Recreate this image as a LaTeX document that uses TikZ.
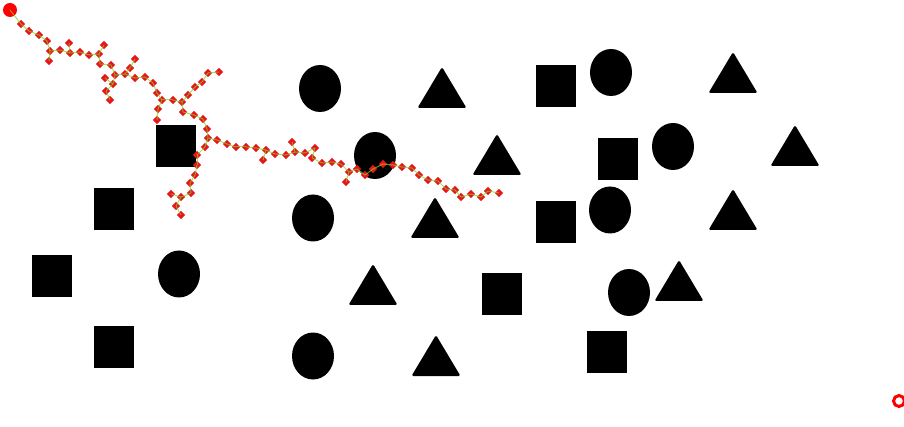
\documentclass[tikz,border=0pt]{standalone}
\usepackage{xcolor}
\usepackage{tikz}
\usetikzlibrary{shapes.geometric}
\definecolor{treered}{HTML}{E8141B}
\definecolor{treegreen}{HTML}{7ED321}

\begin{document}
\begin{tikzpicture}[x=1pt, y=-1pt,
      obst/.style={fill=black},
      vtx/.style={diamond, fill=treered, inner sep=0pt, minimum size=8.5pt},
      link/.style={treegreen, line width=1pt, opacity=0.7}]
    \useasboundingbox (0,0) rectangle (904,427);
    % obstacles
    \foreach \x/\y in {176/146, 556/86, 618/159, 114/209, 556/222, 52/276, 502/294, 114/347, 607/352}
      \fill[obst] ({\x-20},{\y-21}) rectangle ++(40,42);
    \foreach \x/\y in {320/88.5, 375/155.5, 611/72.5, 673/146.5, 313/218, 610/210, 179/274, 629/292.5, 313/356}
      \fill[obst] (\x,\y) ellipse [x radius=21pt, y radius=23.5pt];
    \foreach \x/\y in {442/67, 733/52, 497/134, 795/125, 435/197, 733/189, 373/264, 679/260, 436/335}
      \fill[obst, rounded corners=1.5pt] (\x,\y) -- ++(24.5,41) -- ++(-49,0) -- cycle;
    % start and goal
    \node[circle, fill=red, inner sep=0pt, minimum size=14pt] (start) at (10,10) {};
    \node[circle, draw=red, line width=3pt, inner sep=0pt, minimum size=11pt] (goal) at (899,401) {};
    % tree
    \foreach \n/\x/\y in {v1/21/24, v2/29/31, v3/39/35, v4/47/41, v5/50/51, v6/49/61, v7/60/50,
        v8/70/53, v9/69/43, v10/80/52, v11/89/55, v12/99/54, v13/104/45, v14/100/64, v15/111/65,
        v16/115/75, v17/113/84, v18/106/91, v19/110/100, v20/105/78, v21/125/74, v22/130/68,
        v23/135/59, v24/135/78, v25/145/77, v26/153/83, v27/157/93, v28/162/100, v29/158/109,
        v30/157/120, v31/173/100, v32/182/102, v33/188/95, v34/195/87, v35/202/82, v36/208/73,
        v37/219/72, v38/183/112, v39/194/115, v40/203/119, v41/207/129, v42/208/138, v43/217/140,
        v44/227/144, v45/236/147, v46/246/147, v47/256/148, v48/266/150, v49/263/160, v50/275/154,
        v51/286/155, v52/295/152, v53/292/142, v54/305/153, v55/315/148, v56/312/158, v57/322/163,
        v58/332/162, v59/341/164, v60/349/172, v61/346/182, v62/357/169, v63/365/175, v64/373/169,
        v65/383/164, v66/393/165, v67/402/167, v68/412/168, v69/419/175, v70/428/180, v71/438/181,
        v72/446/189, v73/455/190, v74/461/197, v75/471/194, v76/481/197, v77/488/191, v78/499/193,
        w1/205/147, w2/197/155, w3/197/165, w4/195/175, w5/190/183, w6/191/193, w7/181/197,
        w8/171/194, w9/176/206, w10/181/215}
      \node[vtx] (\n) at (\x,\y) {};
    \foreach \p/\c in {start/v1, v1/v2, v2/v3, v3/v4, v4/v5, v5/v6, v5/v7, v7/v8, v8/v9, v8/v10,
        v10/v11, v11/v12, v12/v13, v12/v14, v14/v15, v15/v16, v16/v17, v17/v18, v18/v19, v17/v20,
        v16/v21, v21/v22, v22/v23, v21/v24, v24/v25, v25/v26, v26/v27, v27/v28, v28/v29, v29/v30,
        v28/v31, v31/v32, v32/v33, v33/v34, v34/v35, v35/v36, v36/v37, v32/v38, v38/v39, v39/v40,
        v40/v41, v41/v42, v42/v43, v43/v44, v44/v45, v45/v46, v46/v47, v47/v48, v48/v49, v48/v50,
        v50/v51, v51/v52, v52/v53, v52/v54, v54/v55, v55/v56, v56/v57, v57/v58, v58/v59, v59/v60,
        v60/v61, v60/v62, v62/v63, v63/v64, v64/v65, v65/v66, v66/v67, v67/v68, v68/v69, v69/v70,
        v70/v71, v71/v72, v72/v73, v73/v74, v74/v75, v75/v76, v76/v77, v77/v78,
        v42/w1, w1/w2, w2/w3, w3/w4, w4/w5, w5/w6, w6/w7, w7/w8, w7/w9, w9/w10}
      \draw[link] (\p.center) -- (\c.center);
  \end{tikzpicture}
\end{document}
